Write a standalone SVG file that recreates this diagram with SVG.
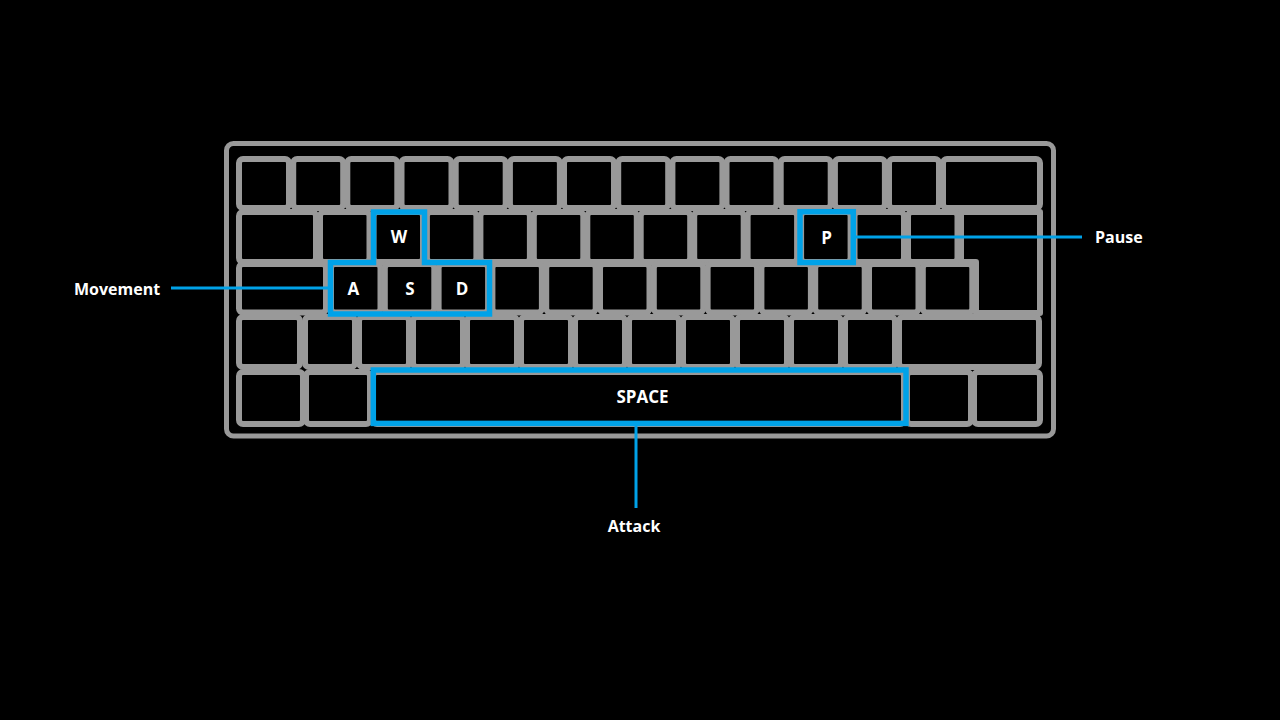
<svg xmlns="http://www.w3.org/2000/svg" width="1280" height="720" viewBox="0 0 1280 720">
<style>
.key{fill:#000;stroke:#999;stroke-width:6;stroke-linejoin:round}
.frame{fill:none;stroke:#999;stroke-width:5}
.hl{fill:none;stroke:#00a2e8;stroke-width:5.5;stroke-linejoin:miter}
.ln{stroke:#00a2e8;stroke-width:3;fill:none}
.kt{font-family:"Open Sans","Noto Sans","DejaVu Sans",sans-serif;font-weight:700;font-size:17px;fill:#fff;text-anchor:middle}
.lb{font-family:"Open Sans","Noto Sans","DejaVu Sans",sans-serif;font-weight:700;font-size:16px;fill:#fff}
</style>
<rect x="0" y="0" width="1280" height="720" fill="#000"/>
<g id="keyboard">
<rect class="frame" x="226.5" y="143.5" width="827" height="292.5" rx="7"/>
<g id="row1">
<rect class="key" x="239" y="159" width="50" height="49" rx="4"/>
<rect class="key" x="293.2" y="159" width="50" height="49" rx="4"/>
<rect class="key" x="347.3" y="159" width="50" height="49" rx="4"/>
<rect class="key" x="401.5" y="159" width="50" height="49" rx="4"/>
<rect class="key" x="455.7" y="159" width="50" height="49" rx="4"/>
<rect class="key" x="509.9" y="159" width="50" height="49" rx="4"/>
<rect class="key" x="564" y="159" width="50" height="49" rx="4"/>
<rect class="key" x="618.2" y="159" width="50" height="49" rx="4"/>
<rect class="key" x="672.4" y="159" width="50" height="49" rx="4"/>
<rect class="key" x="726.5" y="159" width="50" height="49" rx="4"/>
<rect class="key" x="780.7" y="159" width="50" height="49" rx="4"/>
<rect class="key" x="834.9" y="159" width="50" height="49" rx="4"/>
<rect class="key" x="889" y="159" width="50" height="49" rx="4"/>
<rect class="key" x="943" y="159" width="97" height="49" rx="4"/>
</g>
<g id="row2">
<rect class="key" x="239" y="212" width="77" height="50" rx="4"/>
<rect class="key" x="320" y="212" width="49.5" height="50" rx="4"/>
<rect class="key" x="373.5" y="212" width="49.5" height="50" rx="4"/>
<rect class="key" x="426.9" y="212" width="49.5" height="50" rx="4"/>
<rect class="key" x="480.4" y="212" width="49.5" height="50" rx="4"/>
<rect class="key" x="533.8" y="212" width="49.5" height="50" rx="4"/>
<rect class="key" x="587.3" y="212" width="49.5" height="50" rx="4"/>
<rect class="key" x="640.7" y="212" width="49.5" height="50" rx="4"/>
<rect class="key" x="694.2" y="212" width="49.5" height="50" rx="4"/>
<rect class="key" x="747.6" y="212" width="49.5" height="50" rx="4"/>
<rect class="key" x="801.1" y="212" width="49.5" height="50" rx="4"/>
<rect class="key" x="854.5" y="212" width="49.5" height="50" rx="4"/>
<rect class="key" x="908" y="212" width="49.5" height="50" rx="4"/>
</g>
<g id="row3">
<rect class="key" x="239" y="264" width="87" height="48.5" rx="4"/>
<rect class="key" x="331" y="264" width="49.5" height="48.5" rx="4"/>
<rect class="key" x="384.8" y="264" width="49.5" height="48.5" rx="4"/>
<rect class="key" x="438.6" y="264" width="49.5" height="48.5" rx="4"/>
<rect class="key" x="492.4" y="264" width="49.5" height="48.5" rx="4"/>
<rect class="key" x="546.2" y="264" width="49.5" height="48.5" rx="4"/>
<rect class="key" x="600" y="264" width="49.5" height="48.5" rx="4"/>
<rect class="key" x="653.8" y="264" width="49.5" height="48.5" rx="4"/>
<rect class="key" x="707.6" y="264" width="49.5" height="48.5" rx="4"/>
<rect class="key" x="761.4" y="264" width="49.5" height="48.5" rx="4"/>
<rect class="key" x="815.2" y="264" width="49.5" height="48.5" rx="4"/>
<rect class="key" x="869" y="264" width="49.5" height="48.5" rx="4"/>
<rect class="key" x="922.8" y="264" width="49.5" height="48.5" rx="4"/>
<path class="key" d="M961 212 H1040 V313 H976 V262 H961 Z"/>
</g>
<g id="row4">
<rect class="key" x="239" y="317" width="61" height="50" rx="4"/>
<rect class="key" x="305" y="317" width="50" height="50" rx="4"/>
<rect class="key" x="359" y="317" width="50" height="50" rx="4"/>
<rect class="key" x="413" y="317" width="50" height="50" rx="4"/>
<rect class="key" x="467" y="317" width="50" height="50" rx="4"/>
<rect class="key" x="521" y="317" width="50" height="50" rx="4"/>
<rect class="key" x="575" y="317" width="50" height="50" rx="4"/>
<rect class="key" x="629" y="317" width="50" height="50" rx="4"/>
<rect class="key" x="683" y="317" width="50" height="50" rx="4"/>
<rect class="key" x="737" y="317" width="50" height="50" rx="4"/>
<rect class="key" x="791" y="317" width="50" height="50" rx="4"/>
<rect class="key" x="845" y="317" width="50" height="50" rx="4"/>
<rect class="key" x="899" y="317" width="140" height="50" rx="4"/>
</g>
<g id="row5">
<rect class="key" x="239" y="372" width="64" height="52" rx="4"/>
<rect class="key" x="306" y="372" width="64" height="52" rx="4"/>
<rect class="key" x="373" y="372" width="531" height="52" rx="4"/>
<rect class="key" x="907" y="372" width="64" height="52" rx="4"/>
<rect class="key" x="974" y="372" width="66" height="52" rx="4"/>
</g>
</g>
<g id="key-labels">
<text class="kt" x="399" y="242.5">W</text>
<text class="kt" x="353.3" y="295">A</text>
<text class="kt" x="410" y="295">S</text>
<text class="kt" x="462" y="295">D</text>
<text class="kt" x="826.7" y="244">P</text>
<text class="kt" x="642.5" y="403">SPACE</text>
</g>
<g id="movement">
<polygon class="hl" points="330.5,262.5 373.5,262.5 373.5,212 424.5,212 424.5,262.5 489.5,262.5 489.5,314 330.5,314"/>
<text class="lb" x="74" y="295">Movement</text>
</g>
<g id="pause">
<rect class="hl" x="800" y="211.7" width="53.3" height="50.8"/>
<text class="lb" x="1095" y="242.7">Pause</text>
</g>
<g id="attack">
<rect class="hl" x="373.3" y="370" width="532.7" height="53.4"/>
<text class="lb" x="634" y="532" text-anchor="middle">Attack</text>
</g>
<g id="connectors">
<line class="ln" x1="171" y1="288" x2="328" y2="288"/>
<line class="ln" x1="856" y1="237" x2="1082" y2="237"/>
<line class="ln" x1="636" y1="426" x2="636" y2="508"/>
</g>
</svg>
